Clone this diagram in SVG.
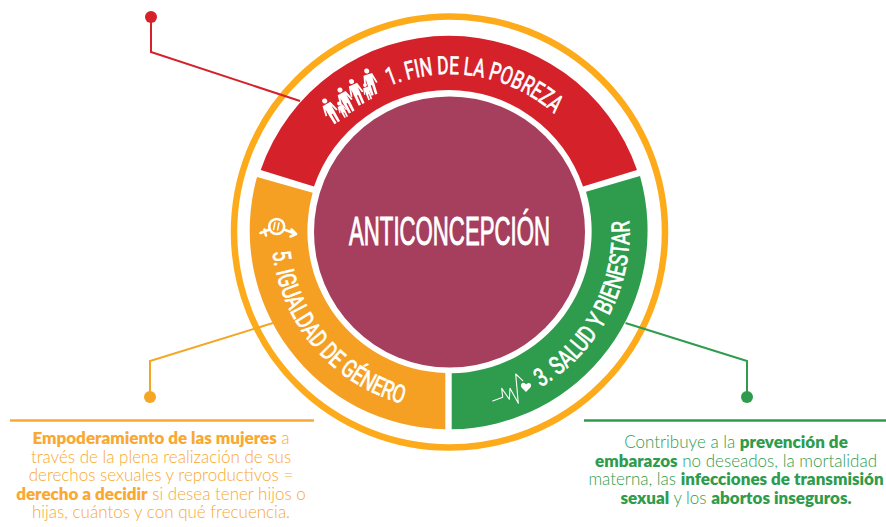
<svg xmlns="http://www.w3.org/2000/svg" xmlns:xlink="http://www.w3.org/1999/xlink" width="886" height="527" viewBox="0 0 886 527">
<style>
.lab{font-family:"Liberation Sans Narrow","Roboto","Liberation Sans",sans-serif;fill:#fff;stroke:#fff;stroke-width:.7px;font-size:25px}
.body{font-family:"Lato","Noto Sans",sans-serif;font-size:17px;font-weight:300;text-anchor:middle}
.body tspan.b{font-weight:800}
.o{fill:#F9A832}.g{fill:#2E9C4C}
.c{fill:none;stroke-width:2}
.ic{fill:none;stroke:#fff;stroke-linecap:round;stroke-linejoin:round}
</style>
<defs>
<path id="arcR" d="M389.500 85.800A158 158 0 0 1 553.800 113.300"/>
<path id="arcG" d="M540.800 387.100A180 180 0 0 0 629.200 221.600"/>
<path id="arcO" d="M272.600 251.800A178 178 0 0 0 402.500 403.700"/>
<g id="adult" fill="#fff"><circle cx="0" cy="0" r="2.5"/><path d="M-4.500 3.500H4.500L7 14H5.200L3.500 7.500V13.500L3.200 25H.7V15H-.7V25H-3.200L-3.500 13.500V7.500L-5.200 14H-7Z"/></g>
<g id="child" fill="#fff"><circle cx="0" cy="0" r="1.9"/><path d="M-2.800 2.400H2.800L4.200 9H3L2.200 5.500V9.500L2 15.500H.4V10H-.4V15.500H-2L-2.200 9.500V5.500L-3 9H-4.200Z"/></g>
</defs>
<g id="ring"><circle cx="449.500" cy="232" r="215.500" fill="none" stroke="#FDAB1B" stroke-width="6.500"/></g>
<g id="center"><circle cx="449.500" cy="232" r="135.500" fill="#A63F5E"/>
<text x="449.500" y="245" text-anchor="middle" textLength="201" lengthAdjust="spacingAndGlyphs" font-family="'Liberation Sans Narrow','Liberation Sans',sans-serif" font-size="41" fill="#fff" stroke="#fff" stroke-width="1">ANTICONCEPCIÓN</text></g>
<g id="node-1"><path d="M260.700 170A199 199 0 0 1 637 170L583 186.500A142 142 0 0 0 314 186.500Z" fill="#D5212A"/>
<text class="lab"><textPath xlink:href="#arcR" href="#arcR" textLength="176" lengthAdjust="spacingAndGlyphs">1. FIN DE LA POBREZA</textPath></text>
<use href="#adult" transform="translate(324.700 101) rotate(-30)"/><use href="#child" transform="translate(339 103.500) rotate(-28)"/><use href="#adult" transform="translate(340 90) rotate(-28)"/><use href="#adult" transform="translate(351.500 81.500) rotate(-24)"/><use href="#child" transform="translate(365 85) rotate(-20)"/><use href="#adult" transform="translate(366.700 71) rotate(-18)"/></g>
<g id="node-5"><path d="M257 177A199 199 0 0 0 445.300 429.300V373A142 142 0 0 1 312.700 192.700Z" fill="#F5A023"/>
<text class="lab"><textPath xlink:href="#arcO" href="#arcO" textLength="212" lengthAdjust="spacingAndGlyphs">5. IGUALDAD DE GÉNERO</textPath></text>
<g class="ic" stroke-width="2.600"><circle cx="276.700" cy="226.500" r="7.500"/><path d="M269.500 229.500L260.500 233M264.500 229.500L266 235.500M284 229.500L296 234M296 234L291.500 229.500M296 234L290.500 236.500"/></g>
<path d="M275 222.500L273.500 229.500M279 223L277.500 230" class="ic" stroke-width="1.500"/></g>
<g id="node-3"><path d="M640 176A199 199 0 0 1 451.700 429.300V373.300A142 142 0 0 0 586 191.700Z" fill="#2E9C4C"/>
<text class="lab"><textPath xlink:href="#arcG" href="#arcG" textLength="198" lengthAdjust="spacingAndGlyphs">3. SALUD Y BIENESTAR</textPath></text>
<path class="ic" stroke-width="1.100" d="M492.700 401L502.700 397.300L501.700 388.300L509.300 399.300L510 388.300L518.300 403.300L515.700 374L522.700 380.700"/>
<path fill="#fff" d="M526 392L521.300 387.200Q520 384 522.800 382.800Q525 382.400 526 384.400Q527.600 382.200 530 383.200Q532 385 530.400 387.600Z"/></g>
<g id="connectors">
<path class="c" stroke="#D5212A" d="M151 17V52L300 101"/><circle cx="151" cy="17" r="6" fill="#D5212A"/>
<path class="c" stroke="#F5A623" d="M150 397V361L273 323"/><circle cx="150" cy="397" r="6" fill="#F5A623"/>
<path class="c" stroke="#2E9C4C" d="M747 397V361L625.500 323"/><circle cx="747" cy="397" r="6" fill="#2E9C4C"/>
</g>
<g id="note-left"><path d="M10 420.500H314" stroke="#F9A832" stroke-width="2.400"/>
<text class="body o" x="161" y="444"><tspan class="b">Empoderamiento de las mujeres</tspan> a</text>
<text class="body o" x="161" y="462.500">través de la plena realización de sus</text>
<text class="body o" x="161" y="481">derechos sexuales y reproductivos =</text>
<text class="body o" x="161" y="499.500"><tspan class="b">derecho a decidir</tspan> si desea tener hijos o</text>
<text class="body o" x="161" y="518">hijas, cuántos y con qué frecuencia.</text></g>
<g id="note-right"><path d="M584 420.500H886" stroke="#2E9C4C" stroke-width="2.400"/>
<text class="body g" x="736" y="448">Contribuye a la <tspan class="b">prevención de</tspan></text>
<text class="body g" x="736" y="466.500"><tspan class="b">embarazos</tspan> no deseados, la mortalidad</text>
<text class="body g" x="736" y="485">materna, las <tspan class="b">infecciones de transmisión</tspan></text>
<text class="body g" x="736" y="503.500"><tspan class="b">sexual</tspan> y los <tspan class="b">abortos inseguros.</tspan></text></g>
</svg>
